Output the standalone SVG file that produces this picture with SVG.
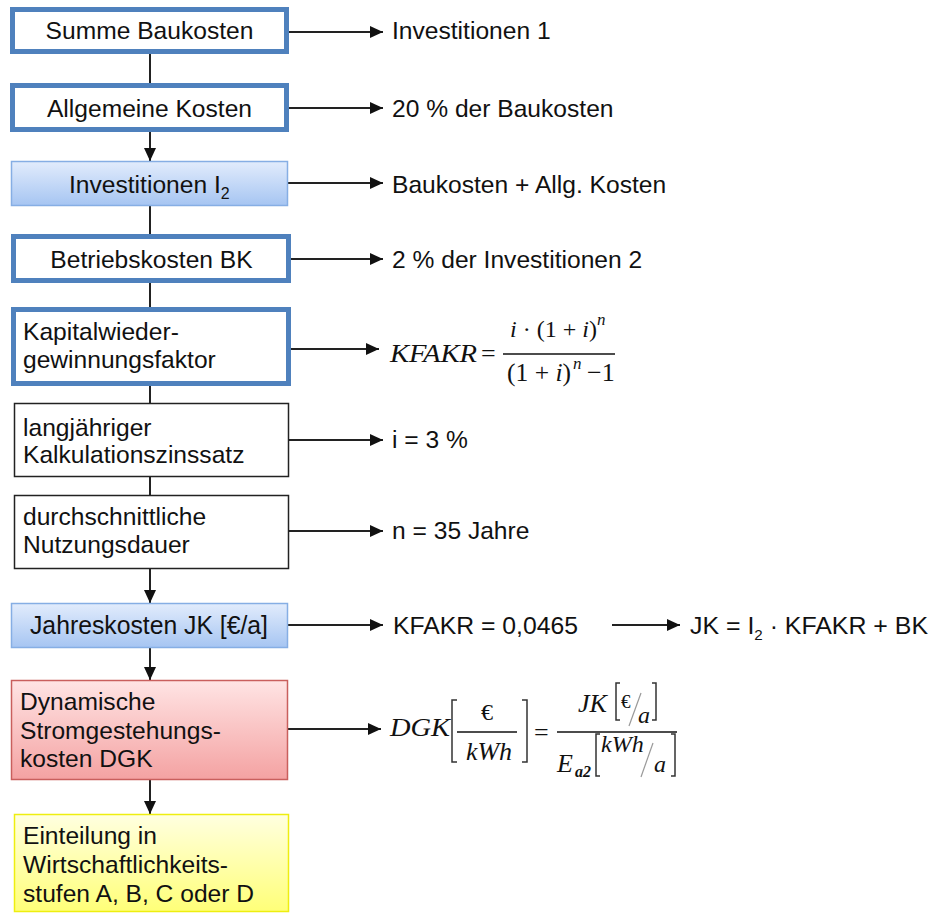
<svg xmlns="http://www.w3.org/2000/svg" width="931" height="915" viewBox="0 0 931 915">
<style>
.t{font-family:"Liberation Sans",Arial,sans-serif;font-size:24.6px;fill:#111}
.m{font-family:"Liberation Serif","Times New Roman",serif;font-size:26px;fill:#111}
.it{font-style:italic}
.s24{font-size:24px}
.s19{font-size:19px}
.s17{font-size:17px}
.s16b{font-size:16px;font-weight:bold}
.thick{fill:#fff;stroke:#4f81bd;stroke-width:5}
.thin{fill:#fff;stroke:#222;stroke-width:1.5}
.blue{fill:url(#gBlue);stroke:#86aee4;stroke-width:1.5}
.red{fill:url(#gRed);stroke:#c95f5d;stroke-width:1.5}
.yel{fill:url(#gYel);stroke:#eeee10;stroke-width:1.5}
.c{stroke:#222;stroke-width:2;fill:none}
.ca{stroke:#222;stroke-width:2;fill:none;marker-end:url(#ah)}
.br{stroke:#333;stroke-width:1.5;fill:none}
.sl{stroke:#999;stroke-width:1.2;fill:none}
.fl{stroke:#111;stroke-width:1.4}
</style>
<defs>
<linearGradient id="gBlue" x1="0" y1="0" x2="0" y2="1"><stop offset="0" stop-color="#e2ecfc"/><stop offset="1" stop-color="#a6c5f2"/></linearGradient>
<linearGradient id="gRed" x1="0" y1="0" x2="0" y2="1"><stop offset="0" stop-color="#ffe4e4"/><stop offset="1" stop-color="#f4a2a2"/></linearGradient>
<linearGradient id="gYel" x1="0" y1="0" x2="0" y2="1"><stop offset="0" stop-color="#ffffe0"/><stop offset="1" stop-color="#ffff78"/></linearGradient>
<marker id="ah" markerUnits="userSpaceOnUse" markerWidth="13" markerHeight="12" refX="13" refY="6" orient="auto"><path d="M0,0 L13,6 L0,12 z" fill="#111"/></marker>
</defs>

<g id="connectors">
<line class="c" x1="150" y1="54" x2="150" y2="83"/>
<line class="ca" x1="150" y1="132" x2="150" y2="161"/>
<line class="c" x1="150" y1="206" x2="150" y2="234"/>
<line class="c" x1="150" y1="283" x2="150" y2="307"/>
<line class="c" x1="150" y1="386" x2="150" y2="403"/>
<line class="c" x1="150" y1="477" x2="150" y2="495"/>
<line class="ca" x1="150" y1="569" x2="150" y2="603"/>
<line class="ca" x1="150" y1="648" x2="150" y2="680"/>
<line class="ca" x1="150" y1="780" x2="150" y2="814"/>
<line class="ca" x1="289" y1="32" x2="383" y2="32"/>
<line class="ca" x1="289" y1="108" x2="383" y2="108"/>
<line class="ca" x1="288" y1="183" x2="383" y2="183"/>
<line class="ca" x1="291" y1="259" x2="383" y2="259"/>
<line class="ca" x1="291" y1="349" x2="379" y2="349"/>
<line class="ca" x1="289" y1="440" x2="383" y2="440"/>
<line class="ca" x1="289" y1="531" x2="383" y2="531"/>
<line class="ca" x1="288" y1="625" x2="383" y2="625"/>
<line class="ca" x1="612" y1="625" x2="680" y2="625"/>
<line class="ca" x1="288" y1="729" x2="381" y2="729"/>
</g>

<g id="n1"><rect class="thick" x="12.5" y="9.5" width="274" height="42"/><text class="t" x="149.5" y="39" text-anchor="middle">Summe Baukosten</text></g>
<g id="n2"><rect class="thick" x="12.5" y="85.5" width="274" height="44"/><text class="t" x="149.5" y="117" text-anchor="middle">Allgemeine Kosten</text></g>
<g id="n3"><rect class="blue" x="11.5" y="161.5" width="276" height="44"/><text class="t" x="69" y="193">Investitionen I<tspan font-size="16" dy="6">2</tspan></text></g>
<g id="n4"><rect class="thick" x="13.5" y="236.5" width="275" height="44"/><text class="t" x="151.5" y="268" text-anchor="middle">Betriebskosten BK</text></g>
<g id="n5"><rect class="thick" x="13.5" y="309.5" width="275" height="74"/><text class="t" x="23" y="340">Kapitalwieder-</text><text class="t" x="23" y="368">gewinnungsfaktor</text></g>
<g id="n6"><rect class="thin" x="14.5" y="403.5" width="274" height="73"/><text class="t" x="23" y="436">langjähriger</text><text class="t" x="23" y="463">Kalkulationszinssatz</text></g>
<g id="n7"><rect class="thin" x="14.5" y="495.5" width="274" height="73"/><text class="t" x="23" y="525">durchschnittliche</text><text class="t" x="23" y="553">Nutzungsdauer</text></g>
<g id="n8"><rect class="blue" x="11.5" y="603.5" width="276" height="44"/><text class="t" x="30" y="634" textLength="238" lengthAdjust="spacingAndGlyphs" style="font-size:26px">Jahreskosten JK [€/a]</text></g>
<g id="n9"><rect class="red" x="11.5" y="680.5" width="276" height="99"/><text class="t" x="20" y="710">Dynamische</text><text class="t" x="20" y="739">Stromgestehungs-</text><text class="t" x="20" y="767">kosten DGK</text></g>
<g id="n10"><rect class="yel" x="14.5" y="814.5" width="274" height="97"/><text class="t" x="23" y="844">Einteilung in</text><text class="t" x="23" y="873">Wirtschaftlichkeits-</text><text class="t" x="23" y="902">stufen A, B, C oder D</text></g>

<g id="labels">
<text class="t" x="392" y="39">Investitionen 1</text>
<text class="t" x="392" y="117">20 % der Baukosten</text>
<text class="t" x="392" y="193">Baukosten + Allg. Kosten</text>
<text class="t" x="392" y="268">2 % der Investitionen 2</text>
<text class="t" x="392" y="448">i = 3 %</text>
<text class="t" x="392" y="539">n = 35 Jahre</text>
<text class="t" x="393" y="634" textLength="185" lengthAdjust="spacingAndGlyphs">KFAKR = 0,0465</text>
<text class="t" x="690" y="634" textLength="238" lengthAdjust="spacingAndGlyphs">JK = I<tspan font-size="15" dy="6">2</tspan><tspan dy="-6"> · KFAKR + BK</tspan></text>
</g>

<g id="formula-kfakr">
<text class="m it" x="390" y="362" textLength="87" lengthAdjust="spacingAndGlyphs">KFAKR</text>
<text class="m" x="481" y="362">=</text>
<line class="fl" x1="503" y1="354" x2="615" y2="354"/>
<text class="m s24" x="510" y="337"><tspan class="it">i</tspan> · (1 + <tspan class="it">i</tspan>)</text>
<text class="m it s17" x="597" y="325">n</text>
<text class="m" x="507" y="381" textLength="64" lengthAdjust="spacingAndGlyphs">(1 + <tspan class="it">i</tspan>)</text>
<text class="m it s17" x="573" y="369">n</text>
<text class="m" x="587" y="381">−1</text>
</g>

<g id="formula-dgk">
<text class="m it" x="390" y="736" textLength="60" lengthAdjust="spacingAndGlyphs">DGK</text>
<polyline class="br" points="457,700 452,700 452,762 457,762"/>
<text class="m s24" x="487" y="720" text-anchor="middle">€</text>
<line class="fl" x1="457" y1="732" x2="517" y2="732"/>
<text class="m it" x="489" y="760" text-anchor="middle">kWh</text>
<polyline class="br" points="522,700 527,700 527,762 522,762"/>
<text class="m" x="534" y="741">=</text>
<line class="fl" x1="557" y1="732" x2="677" y2="732"/>
<text class="m it" x="578" y="712">JK</text>
<polyline class="br" points="620,683 616,683 616,720 620,720"/>
<text class="m s19" x="621" y="708">€</text>
<line class="sl" x1="641" y1="693" x2="629" y2="726"/>
<text class="m it s24" x="638" y="723">a</text>
<polyline class="br" points="652,683 656,683 656,720 652,720"/>
<text class="m it" x="557" y="772">E</text>
<text class="m it s16b" x="575" y="777">a2</text>
<polyline class="br" points="600,734 596,734 596,776 600,776"/>
<text class="m it s24" x="601" y="752">kWh</text>
<line class="sl" x1="653" y1="743" x2="641" y2="777"/>
<text class="m it s24" x="654" y="772">a</text>
<polyline class="br" points="671,734 675,734 675,776 671,776"/>
</g>
</svg>
